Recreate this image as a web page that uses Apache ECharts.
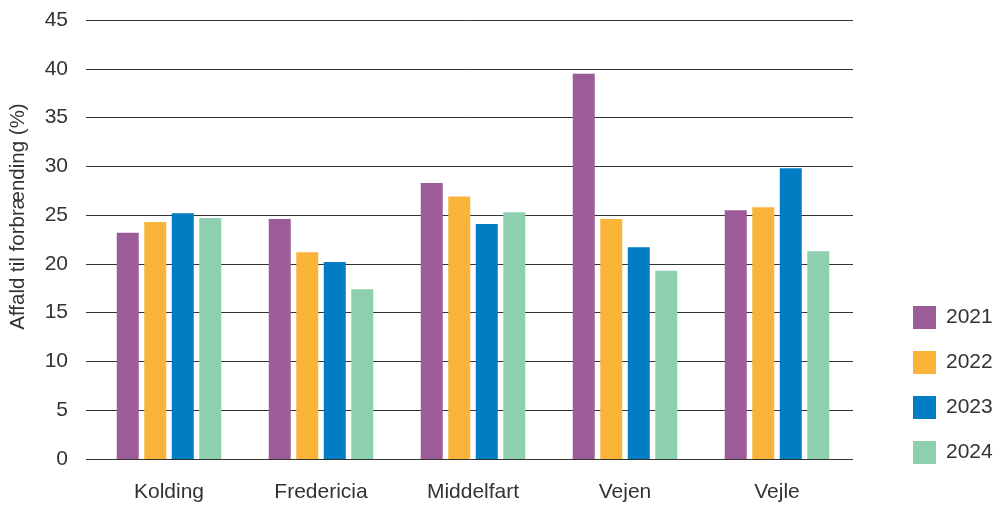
<!DOCTYPE html>
<html><head><meta charset="utf-8">
<script src="https://cdn.jsdelivr.net/npm/echarts@6/dist/echarts.min.js"></script>
<style>html,body{margin:0;padding:0;background:#fff}#c{width:996px;height:505px}</style>
</head><body><div id="c"></div>
<script>
const categories = ['Kolding', 'Fredericia', 'Middelfart', 'Vejen', 'Vejle'];
const years = ['2021', '2022', '2023', '2024'];
const v2021 = [23.2, 24.6, 28.3, 39.5, 25.5];
const v2022 = [24.3, 21.2, 26.9, 24.6, 25.8];
const v2023 = [25.2, 20.2, 24.1, 21.7, 29.8];
const v2024 = [24.7, 17.4, 25.3, 19.3, 21.3];
const yTicks = [0, 5, 10, 15, 20, 25, 30, 35, 40, 45];
const colors = ['#9B5C98', '#FBB43A', '#007DC3', '#8ECFB0'];
const FONT = 'Liberation Sans';

const chart = echarts.init(document.getElementById('c'), null, {renderer: 'canvas'});
const seriesData = [v2021, v2022, v2023, v2024];
chart.setOption({
  animation: false,
  textStyle: {fontFamily: FONT},
  grid: [
    {left: 85, right: 143, top: 20, bottom: 46},
    {left: 93, right: 143, top: 20, bottom: 46}
  ],
  legend: {
    orient: 'vertical', left: 908, top: 301,
    itemWidth: 23, itemHeight: 23, itemGap: 22,
    icon: 'rect',
    textStyle: {fontSize: 21, color: '#333', fontFamily: FONT, padding: [0, 0, 0, 5]},
    data: years
  },
  xAxis: [
    {type: 'category', gridIndex: 0, data: categories, show: false},
    {type: 'category', gridIndex: 1, data: categories,
     axisLine: {show: false}, axisTick: {show: false},
     axisLabel: {fontSize: 21, color: '#333', margin: 23, fontFamily: FONT}}
  ],
  yAxis: [
    {type: 'value', gridIndex: 0, min: yTicks[0], max: yTicks[yTicks.length-1], interval: 5,
     name: 'Affald til forbrænding (%)', nameLocation: 'middle', nameGap: 57,
     nameTextStyle: {fontSize: 20.5, color: '#333', fontFamily: FONT, padding: [0, 0, 0, 46]},
     axisLine: {show: false}, axisTick: {show: false},
     axisLabel: {fontSize: 21, color: '#333', margin: 18, fontFamily: FONT},
     splitLine: {lineStyle: {color: '#333', width: 1}}},
    {type: 'value', gridIndex: 1, min: yTicks[0], max: yTicks[yTicks.length-1], interval: 5, show: false,
     splitLine: {show: false}}
  ],
  series: years.map((y, i) => ({
    name: y, type: 'bar', xAxisIndex: 1, yAxisIndex: 1,
    data: seriesData[i], barWidth: 22, barGap: '25%',
    itemStyle: {color: colors[i]}
  }))
});
</script></body></html>
